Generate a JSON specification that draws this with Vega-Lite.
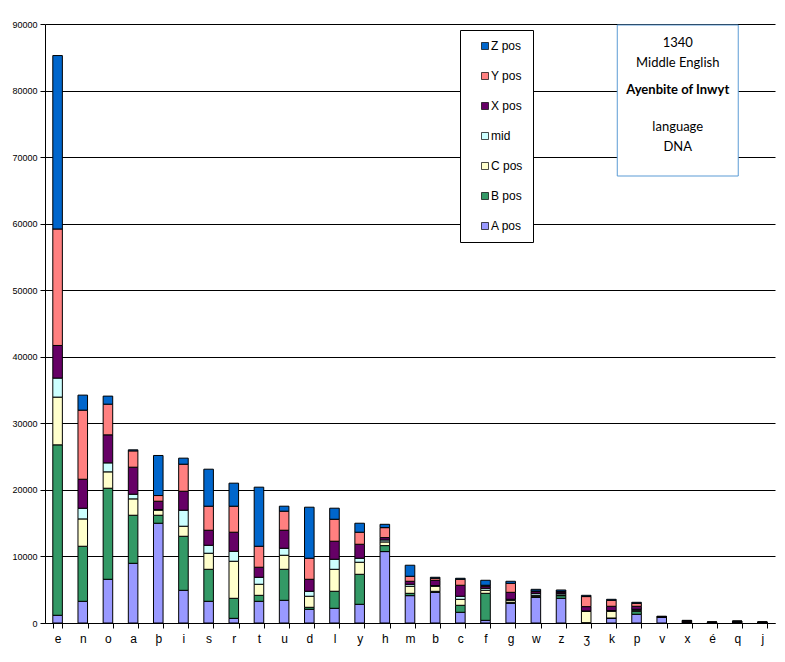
{
  "$schema": "https://vega.github.io/schema/vega-lite/v6.json",
  "width": 730,
  "height": 599,
  "autosize": {"type": "none"},
  "padding": {"left": 45, "top": 24, "right": 10, "bottom": 39},
  "background": "white",
  "config": {"view": {"stroke": null}, "font": "Liberation Sans"},
  "datasets": {
    "letters": [
      {"l": "e", "A pos": 1160, "B pos": 25610, "C pos": 7170, "mid": 2860, "X pos": 4900, "Y pos": 17500, "Z pos": 26060},
      {"l": "n", "A pos": 3260, "B pos": 8270, "C pos": 4110, "mid": 1600, "X pos": 4360, "Y pos": 10380, "Z pos": 2260},
      {"l": "o", "A pos": 6570, "B pos": 13680, "C pos": 2460, "mid": 1350, "X pos": 4210, "Y pos": 4610, "Z pos": 1210},
      {"l": "a", "A pos": 8970, "B pos": 7220, "C pos": 2460, "mid": 700, "X pos": 4060, "Y pos": 2450, "Z pos": 160},
      {"l": "þ", "A pos": 14990, "B pos": 1200, "C pos": 760, "mid": 100, "X pos": 1250, "Y pos": 850, "Z pos": 6020},
      {"l": "i", "A pos": 4910, "B pos": 8120, "C pos": 1510, "mid": 2410, "X pos": 2850, "Y pos": 4060, "Z pos": 910},
      {"l": "s", "A pos": 3260, "B pos": 4810, "C pos": 2410, "mid": 1200, "X pos": 2260, "Y pos": 3610, "Z pos": 5560},
      {"l": "r", "A pos": 700, "B pos": 3010, "C pos": 5570, "mid": 1500, "X pos": 2860, "Y pos": 3910, "Z pos": 3460},
      {"l": "t", "A pos": 3260, "B pos": 900, "C pos": 1660, "mid": 1050, "X pos": 1510, "Y pos": 3150, "Z pos": 8880},
      {"l": "u", "A pos": 3410, "B pos": 4660, "C pos": 2110, "mid": 1050, "X pos": 2710, "Y pos": 2860, "Z pos": 750},
      {"l": "d", "A pos": 2060, "B pos": 300, "C pos": 1660, "mid": 750, "X pos": 1800, "Y pos": 3160, "Z pos": 7670},
      {"l": "l", "A pos": 2210, "B pos": 2560, "C pos": 3300, "mid": 1510, "X pos": 2710, "Y pos": 3300, "Z pos": 1660},
      {"l": "y", "A pos": 2810, "B pos": 4510, "C pos": 1810, "mid": 600, "X pos": 2100, "Y pos": 1810, "Z pos": 1350},
      {"l": "h", "A pos": 10730, "B pos": 900, "C pos": 550, "mid": 300, "X pos": 350, "Y pos": 1500, "Z pos": 500},
      {"l": "m", "A pos": 4110, "B pos": 350, "C pos": 1060, "mid": 300, "X pos": 450, "Y pos": 750, "Z pos": 1660},
      {"l": "b", "A pos": 4610, "B pos": 150, "C pos": 760, "mid": 100, "X pos": 800, "Y pos": 300, "Z pos": 150},
      {"l": "c", "A pos": 1610, "B pos": 1050, "C pos": 900, "mid": 460, "X pos": 1650, "Y pos": 900, "Z pos": 150},
      {"l": "f", "A pos": 400, "B pos": 4060, "C pos": 460, "mid": 300, "X pos": 300, "Y pos": 150, "Z pos": 750},
      {"l": "g", "A pos": 2960, "B pos": 150, "C pos": 300, "mid": 150, "X pos": 1050, "Y pos": 1360, "Z pos": 300},
      {"l": "w", "A pos": 3860, "B pos": 100, "C pos": 150, "mid": 300, "X pos": 300, "Y pos": 100, "Z pos": 250},
      {"l": "z", "A pos": 3710, "B pos": 400, "C pos": 100, "mid": 200, "X pos": 250, "Y pos": 100, "Z pos": 200},
      {"l": "ʒ", "A pos": 50, "B pos": 0, "C pos": 1710, "mid": 50, "X pos": 650, "Y pos": 1510, "Z pos": 190},
      {"l": "k", "A pos": 700, "B pos": 50, "C pos": 1010, "mid": 100, "X pos": 650, "Y pos": 900, "Z pos": 150},
      {"l": "p", "A pos": 1310, "B pos": 450, "C pos": 150, "mid": 150, "X pos": 450, "Y pos": 450, "Z pos": 150},
      {"l": "v", "A pos": 860, "B pos": 20, "C pos": 20, "mid": 20, "X pos": 20, "Y pos": 20, "Z pos": 60},
      {"l": "x", "A pos": 50, "B pos": 20, "C pos": 50, "mid": 20, "X pos": 150, "Y pos": 50, "Z pos": 60},
      {"l": "é", "A pos": 30, "B pos": 20, "C pos": 30, "mid": 10, "X pos": 30, "Y pos": 10, "Z pos": 20},
      {"l": "q", "A pos": 50, "B pos": 20, "C pos": 50, "mid": 20, "X pos": 100, "Y pos": 30, "Z pos": 30},
      {"l": "j", "A pos": 40, "B pos": 10, "C pos": 30, "mid": 10, "X pos": 40, "Y pos": 10, "Z pos": 10}
    ],
    "series": [
      {"s": "A pos", "k": 1},
      {"s": "B pos", "k": 2},
      {"s": "C pos", "k": 3},
      {"s": "mid", "k": 4},
      {"s": "X pos", "k": 5},
      {"s": "Y pos", "k": 6},
      {"s": "Z pos", "k": 7}
    ],
    "box": [{"x1": 21.95, "x2": 26.59, "y1": 89850, "y2": 67160}],
    "notes": [
      {"t": "1340", "x": 24.27, "y": 87145},
      {"t": "Middle English", "x": 24.27, "y": 84080},
      {"t": "language", "x": 24.27, "y": 74480},
      {"t": "DNA", "x": 24.27, "y": 71475}
    ],
    "boldnote": [{"t": "Ayenbite of Inwyt", "x": 24.27, "y": 80085}]
  },
  "layer": [
    {
      "data": {"name": "letters"},
      "transform": [
        {"fold": ["A pos", "B pos", "C pos", "mid", "X pos", "Y pos", "Z pos"], "as": ["s", "v"]},
        {"lookup": "s", "from": {"data": {"name": "series"}, "key": "s", "fields": ["k"]}}
      ],
      "mark": {"type": "bar", "stroke": "black", "strokeWidth": 1},
      "encoding": {
        "x": {
          "field": "l", "type": "nominal", "sort": null,
          "scale": {"paddingInner": 0.62, "paddingOuter": 0.31},
          "axis": {
            "title": null, "labelAngle": 0, "labelFontSize": 12, "labelColor": "black",
            "tickBand": "extent", "tickSize": 5, "tickColor": "black", "labelPadding": 5,
            "domainColor": "black", "grid": false
          }
        },
        "y": {
          "field": "v", "type": "quantitative", "stack": "zero",
          "scale": {"domain": [0, 90000], "nice": false},
          "axis": {
            "title": null, "values": [0, 10000, 20000, 30000, 40000, 50000, 60000, 70000, 80000, 90000],
            "format": "d", "labelFontSize": 9, "labelColor": "black", "tickSize": 5, "tickColor": "black",
            "labelPadding": 3, "domainColor": "black", "grid": true, "gridColor": "black", "gridOpacity": 1, "gridWidth": 1
          }
        },
        "color": {
          "field": "s", "type": "nominal",
          "scale": {
            "domain": ["Z pos", "Y pos", "X pos", "mid", "C pos", "B pos", "A pos"],
            "range": ["#0066CC", "#FF8080", "#660066", "#CCFFFF", "#FFFFCC", "#339966", "#9999FF"]
          },
          "legend": {
            "title": null, "orient": "none", "legendX": 415, "legendY": 6,
            "strokeColor": "black", "fillColor": "white", "padding": 10,
            "symbolType": "square", "symbolSize": 49, "symbolStrokeColor": "black", "symbolStrokeWidth": 0.7,
            "symbolOffset": 9, "labelOffset": 0, "labelFontSize": 12, "labelColor": "black",
            "rowPadding": 18, "labelExpr": "datum.label + '    '"
          }
        },
        "order": {"field": "k", "type": "quantitative", "sort": "ascending"}
      }
    },
    {
      "data": {"name": "box"},
      "mark": {"type": "rect", "fill": "white", "stroke": "#5B9BD5", "strokeWidth": 1},
      "encoding": {
        "x": {"field": "x1", "type": "quantitative", "scale": {"domain": [0, 28], "nice": false, "zero": false}, "axis": null},
        "x2": {"field": "x2"},
        "y": {"field": "y1", "type": "quantitative"},
        "y2": {"field": "y2"}
      }
    },
    {
      "data": {"name": "notes"},
      "mark": {"type": "text", "font": "Lato", "fontSize": 13, "align": "center", "baseline": "middle", "color": "black"},
      "encoding": {
        "x": {"field": "x", "type": "quantitative", "scale": {"domain": [0, 28], "nice": false, "zero": false}, "axis": null},
        "y": {"field": "y", "type": "quantitative"},
        "text": {"field": "t"}
      }
    },
    {
      "data": {"name": "boldnote"},
      "mark": {"type": "text", "font": "Lato", "fontSize": 13, "fontWeight": "bold", "align": "center", "baseline": "middle", "color": "black"},
      "encoding": {
        "x": {"field": "x", "type": "quantitative", "scale": {"domain": [0, 28], "nice": false, "zero": false}, "axis": null},
        "y": {"field": "y", "type": "quantitative"},
        "text": {"field": "t"}
      }
    }
  ],
  "resolve": {"scale": {"x": "independent"}}
}
